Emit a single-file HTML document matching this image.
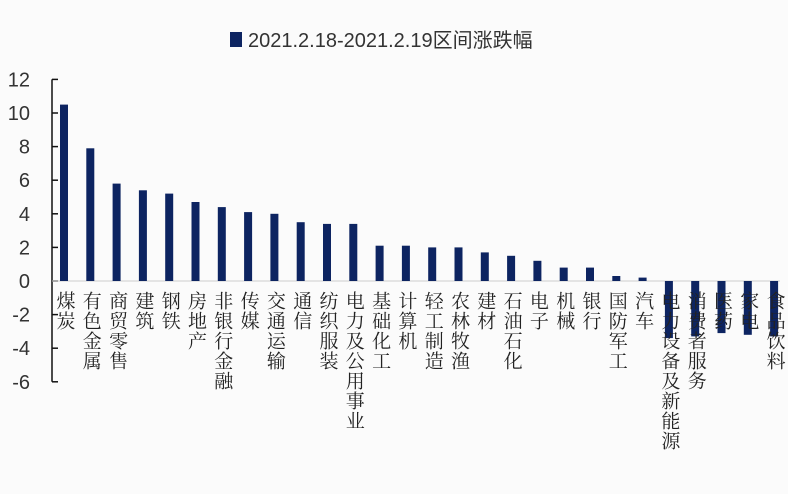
<!DOCTYPE html>
<html><head><meta charset="utf-8"><style>
html,body{margin:0;padding:0;background:#fbfbfb;}
svg{display:block;}
.l{font-family:"Noto Serif CJK SC","Noto Sans CJK SC",serif;font-size:19px;fill:#222;writing-mode:vertical-rl;letter-spacing:1px;}
.t{font-family:"Liberation Sans",sans-serif;font-size:20px;fill:#333;}
</style></head><body>
<svg width="788" height="494" xmlns="http://www.w3.org/2000/svg">
<rect width="788" height="494" fill="#fbfbfb"/>
<rect x="230" y="32" width="12" height="15" fill="#0d2461"/>
<text x="248" y="47" font-family="Liberation Sans, 'Noto Sans CJK SC', sans-serif" font-size="20" fill="#333">2021.2.18-2021.2.19区间涨跌幅</text>
<line x1="52" y1="79.4" x2="52" y2="381.8" stroke="#111" stroke-width="1.5"/>
<g stroke="#111" stroke-width="1.5">
<line x1="52" y1="79.4" x2="58" y2="79.4"/><line x1="52" y1="113" x2="58" y2="113"/><line x1="52" y1="146.6" x2="58" y2="146.6"/><line x1="52" y1="180.2" x2="58" y2="180.2"/><line x1="52" y1="213.8" x2="58" y2="213.8"/><line x1="52" y1="247.4" x2="58" y2="247.4"/><line x1="52" y1="281" x2="58" y2="281"/><line x1="52" y1="314.6" x2="58" y2="314.6"/><line x1="52" y1="348.2" x2="58" y2="348.2"/><line x1="52" y1="381.8" x2="58" y2="381.8"/>
</g>
<g class="t" text-anchor="end">
<text x="30" y="86.4">12</text><text x="30" y="120">10</text><text x="30" y="153.6">8</text><text x="30" y="187.2">6</text><text x="30" y="220.8">4</text><text x="30" y="254.4">2</text><text x="30" y="288">0</text><text x="30" y="321.6">-2</text><text x="30" y="355.2">-4</text><text x="30" y="388.8">-6</text>
</g>
<line x1="52" y1="281" x2="780" y2="281" stroke="#ccc" stroke-width="1"/>
<g fill="#0d2461">
<rect x="60" y="104.6" width="8" height="176.4"/>
<rect x="86.3" y="148.3" width="8" height="132.7"/>
<rect x="112.6" y="183.6" width="8" height="97.4"/>
<rect x="138.9" y="190.3" width="8" height="90.7"/>
<rect x="165.2" y="193.6" width="8" height="87.4"/>
<rect x="191.5" y="202" width="8" height="79"/>
<rect x="217.8" y="207.1" width="8" height="73.9"/>
<rect x="244.1" y="212.1" width="8" height="68.9"/>
<rect x="270.4" y="213.8" width="8" height="67.2"/>
<rect x="296.7" y="222.2" width="8" height="58.8"/>
<rect x="323" y="223.9" width="8" height="57.1"/>
<rect x="349.3" y="223.9" width="8" height="57.1"/>
<rect x="375.6" y="245.7" width="8" height="35.3"/>
<rect x="401.9" y="245.7" width="8" height="35.3"/>
<rect x="428.2" y="247.4" width="8" height="33.6"/>
<rect x="454.5" y="247.4" width="8" height="33.6"/>
<rect x="480.8" y="252.4" width="8" height="28.6"/>
<rect x="507.1" y="255.8" width="8" height="25.2"/>
<rect x="533.4" y="260.8" width="8" height="20.2"/>
<rect x="559.7" y="267.6" width="8" height="13.4"/>
<rect x="586" y="267.6" width="8" height="13.4"/>
<rect x="612.3" y="276" width="8" height="5"/>
<rect x="638.6" y="277.6" width="8" height="3.4"/>
<rect x="664.9" y="281" width="8" height="57.1"/>
<rect x="691.2" y="281" width="8" height="55.4"/>
<rect x="717.5" y="281" width="8" height="52.1"/>
<rect x="743.8" y="281" width="8" height="53.8"/>
<rect x="770.1" y="281" width="8" height="55.4"/>
</g>
<g class="l">
<text x="66" y="291">煤炭</text>
<text x="92.3" y="291">有色金属</text>
<text x="118.6" y="291">商贸零售</text>
<text x="144.9" y="291">建筑</text>
<text x="171.2" y="291">钢铁</text>
<text x="197.5" y="291">房地产</text>
<text x="223.8" y="291">非银行金融</text>
<text x="250.1" y="291">传媒</text>
<text x="276.4" y="291">交通运输</text>
<text x="302.7" y="291">通信</text>
<text x="329" y="291">纺织服装</text>
<text x="355.3" y="291">电力及公用事业</text>
<text x="381.6" y="291">基础化工</text>
<text x="407.9" y="291">计算机</text>
<text x="434.2" y="291">轻工制造</text>
<text x="460.5" y="291">农林牧渔</text>
<text x="486.8" y="291">建材</text>
<text x="513.1" y="291">石油石化</text>
<text x="539.4" y="291">电子</text>
<text x="565.7" y="291">机械</text>
<text x="592" y="291">银行</text>
<text x="618.3" y="291">国防军工</text>
<text x="644.6" y="291">汽车</text>
<text x="670.9" y="291">电力设备及新能源</text>
<text x="697.2" y="291">消费者服务</text>
<text x="723.5" y="291">医药</text>
<text x="749.8" y="291">家电</text>
<text x="776.1" y="291">食品饮料</text>
</g>
</svg>
</body></html>
